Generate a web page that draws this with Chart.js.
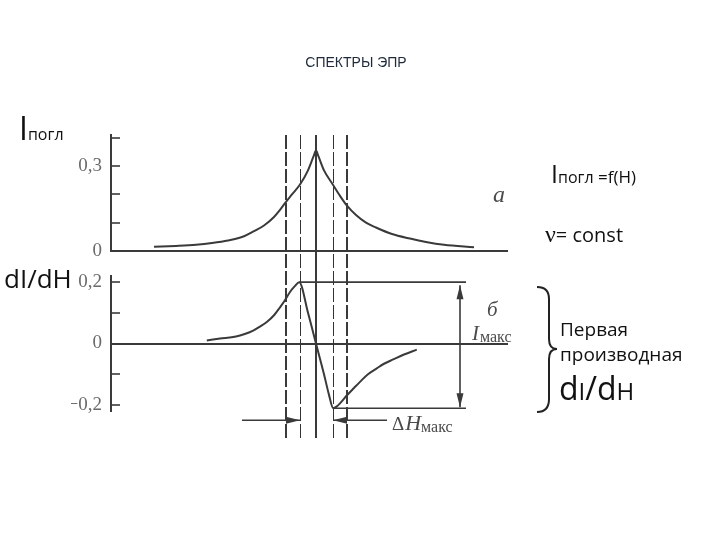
<!DOCTYPE html>
<html>
<head>
<meta charset="utf-8">
<script src="https://cdn.jsdelivr.net/npm/chart.js@4.4.1/dist/chart.umd.min.js"></script>
<style>
html,body{margin:0;padding:0;background:#fff;}
#wrap{position:relative;width:720px;height:540px;overflow:hidden;background:#fff;}
#c{position:absolute;left:0;top:0;}
.t{position:absolute;white-space:nowrap;color:#111;font-family:'Open Sans',sans-serif;line-height:1;}
</style>
</head>
<body>
<div id="wrap">
<canvas id="c" width="720" height="540"></canvas>
<div class="t" style="left:0;width:712px;text-align:center;top:55px;font-size:14px;font-family:'Liberation Sans',sans-serif;color:#1e2a3a;">СПЕКТРЫ ЭПР</div>
<div class="t" style="left:19px;top:112px;font-size:32px;">I<span style="font-size:16px;">погл</span></div>
<div class="t" style="left:4px;top:265px;font-size:26px;">dI/dH</div>
<div class="t" style="left:551px;top:161px;font-size:25px;">I<span style="font-size:16px;">погл</span><span style="font-size:17px;"> =f(H)</span></div>
<div class="t" style="left:545px;top:221px;font-size:24px;"><span style="font-family:'Liberation Serif',serif;">ν</span><span style="font-size:20px;">= const</span></div>
<div class="t" style="left:560px;top:320px;font-size:19px;">Первая</div>
<div class="t" style="left:560px;top:345px;font-size:19px;">производная</div>
<div class="t" style="left:559px;top:372px;font-size:32px;">d<span style="font-size:24px;">I</span>/d<span style="font-size:24px;">H</span></div>
<svg style="position:absolute;left:535px;top:285px;" width="26" height="130" viewBox="0 0 26 130">
<path d="M2,2 Q14,2 14,14 L14,54 Q14,64 22,64 Q14,64 14,74 L14,114 Q14,127 2,127" fill="none" stroke="#222" stroke-width="2"/>
</svg>
</div>
<script>
// ---- data ----
// absorption line (panel a): field offset H (arb. units) and intensity
const absH = [-40.5, -35, -30, -26, -22, -18, -15.5, -13, -10.5, -9, -7.5, -6, -4, -2, -0.6, 0, 0.6, 2, 4.2, 6, 7.75, 10, 12.5, 15, 19, 23.5, 27.5, 32, 39.5];
const absI = [0.015, 0.018, 0.022, 0.028, 0.037, 0.052, 0.07, 0.09, 0.12, 0.145, 0.174, 0.2, 0.235, 0.285, 0.335, 0.355, 0.335, 0.285, 0.235, 0.195, 0.16, 0.127, 0.1, 0.083, 0.06, 0.044, 0.032, 0.022, 0.013];
// first derivative (panel б)
const derH = [-27.3, -24, -20, -18, -15.7, -14, -12.3, -10.5, -9, -7.8, -6.5, -5.3, -4.2, -2, 0, 2, 3.2, 4.3, 5.2, 6, 7.8, 9.5, 11, 13, 15.2, 17, 19.3, 22, 25.2];
const derV = [0.01, 0.016, 0.023, 0.03, 0.042, 0.055, 0.07, 0.092, 0.118, 0.14, 0.168, 0.187, 0.2, 0.1, 0, -0.1, -0.165, -0.211, -0.205, -0.195, -0.168, -0.145, -0.125, -0.1, -0.081, -0.066, -0.052, -0.036, -0.02];
// vertical marker lines (H positions)
const markerH = [-7.5, -4, 0, 4.25, 7.75];
// annotation anchors (H positions)
const refLineEndH = 37.5;
const imaxArrowH = 36;
const dhTailLeftH = -18.5;
const dhTailRightH = 17.75;
const dhArrowLevel = -0.25;
// tick values and labels
const topTicks = [0, 0.1, 0.2, 0.3, 0.4];
const topTickLabels = ['0', '', '', '0,3', ''];
const botTicks = [-0.2, -0.1, 0, 0.1, 0.2];
const botTickLabels = ['\u22120,2', '', '0', '', '0,2'];

const ink = '#3a3a3a';
const tickFont = {family: "'Liberation Serif', serif", size: 19};
const tickColor = '#6a6a6a';

let pk = 0, mn = 0;
derV.forEach((v, i) => { if (v > derV[pk]) pk = i; if (v < derV[mn]) mn = i; });

function arrowHead(ctx, x, y, ang, len, half) {
  ctx.beginPath();
  ctx.moveTo(x, y);
  ctx.lineTo(x - len * Math.cos(ang) + half * Math.sin(ang), y - len * Math.sin(ang) - half * Math.cos(ang));
  ctx.lineTo(x - len * Math.cos(ang) - half * Math.sin(ang), y - len * Math.sin(ang) + half * Math.cos(ang));
  ctx.closePath();
  ctx.fill();
}

const annot = {
  id: 'annot',
  beforeDatasetsDraw(chart) {
    const {ctx, chartArea: a, scales} = chart;
    const x = scales.x;
    ctx.save();
    ctx.strokeStyle = ink;
    markerH.forEach((h, i) => {
      const px = Math.round(x.getPixelForValue(h));
      ctx.beginPath();
      if (i === 2) { ctx.setLineDash([]); ctx.lineWidth = 2; }
      else if (i === 0 || i === 4) { ctx.setLineDash([14, 3]); ctx.lineWidth = 2; }
      else { ctx.setLineDash([14, 3]); ctx.lineWidth = 1; ctx.strokeStyle = '#333'; }
      const off = ctx.lineWidth === 1 ? 0.5 : 0;
      ctx.moveTo(px + off, a.top);
      ctx.lineTo(px + off, a.bottom);
      ctx.stroke();
      ctx.strokeStyle = ink;
    });
    ctx.restore();
  },
  afterDatasetsDraw(chart) {
    const {ctx, scales} = chart;
    const x = scales.x, yT = scales.yTop, yB = scales.yBot;
    ctx.save();
    ctx.strokeStyle = ink;
    ctx.fillStyle = ink;
    ctx.lineWidth = 1.6;
    // I_max arrow
    const ax = x.getPixelForValue(imaxArrowH);
    const y1 = yB.getPixelForValue(derV[pk]);
    const y2 = yB.getPixelForValue(derV[mn]);
    ctx.beginPath(); ctx.moveTo(ax, y1 + 3); ctx.lineTo(ax, y2 - 1); ctx.stroke();
    arrowHead(ctx, ax, y1 + 3, -Math.PI / 2, 14, 3.5);
    arrowHead(ctx, ax, y2 - 1, Math.PI / 2, 14, 3.5);
    // delta H arrows
    const ay = yB.getPixelForValue(dhArrowLevel);
    const lt = x.getPixelForValue(markerH[1]);
    const rt = x.getPixelForValue(markerH[3]);
    const lTail = x.getPixelForValue(dhTailLeftH);
    const rTail = x.getPixelForValue(dhTailRightH);
    ctx.beginPath(); ctx.moveTo(lTail, ay); ctx.lineTo(lt, ay); ctx.stroke();
    arrowHead(ctx, lt, ay, 0, 14, 3.5);
    ctx.beginPath(); ctx.moveTo(rTail, ay); ctx.lineTo(rt, ay); ctx.stroke();
    arrowHead(ctx, rt, ay, Math.PI, 14, 3.5);
    // labels
    ctx.fillStyle = '#4a4a4a';
    ctx.textAlign = 'left';
    ctx.textBaseline = 'alphabetic';
    ctx.font = "italic 24px 'Liberation Serif', serif";
    ctx.fillText('a', x.getPixelForValue(44.25), yT.getPixelForValue(0.173));
    ctx.font = "italic 21px 'Liberation Serif', serif";
    ctx.fillText('б', x.getPixelForValue(42.75), yB.getPixelForValue(0.09));
    // I макс
    let lx = x.getPixelForValue(39), ly = yB.getPixelForValue(0.011);
    ctx.font = "italic 21px 'Liberation Serif', serif";
    ctx.fillText('I', lx, ly);
    lx += ctx.measureText('I').width + 1;
    ctx.font = "16px 'Liberation Serif', serif";
    ctx.fillText('макс', lx, ly + 2);
    // ΔH макс
    lx = rTail + 5; ly = ay + 10;
    ctx.font = "19px 'Liberation Serif', serif";
    ctx.fillText('\u0394', lx, ly);
    lx += ctx.measureText('\u0394').width + 1;
    ctx.font = "italic 22px 'Liberation Serif', serif";
    ctx.fillText('H', lx, ly);
    lx += ctx.measureText('H').width;
    ctx.font = "16px 'Liberation Serif', serif";
    ctx.fillText('макс', lx, ly + 2);
    ctx.restore();
  }
};

const fixW = s => { s.width = 40; };

new Chart(document.getElementById('c'), {
  type: 'line',
  data: {
    datasets: [
      {
        data: absH.map((h, i) => ({x: h, y: absI[i]})),
        yAxisID: 'yTop', borderColor: ink, borderWidth: 2, pointRadius: 0,
        cubicInterpolationMode: 'monotone', clip: false
      },
      {
        data: derH.map((h, i) => ({x: h, y: derV[i]})),
        yAxisID: 'yBot', borderColor: ink, borderWidth: 2, pointRadius: 0,
        cubicInterpolationMode: 'monotone', clip: false
      },
      {
        data: [{x: derH[pk], y: derV[pk]}, {x: refLineEndH, y: derV[pk]}],
        yAxisID: 'yBot', borderColor: ink, borderWidth: 1.6, pointRadius: 0, clip: false
      },
      {
        data: [{x: derH[mn], y: derV[mn]}, {x: refLineEndH, y: derV[mn]}],
        yAxisID: 'yBot', borderColor: ink, borderWidth: 1.6, pointRadius: 0, clip: false
      }
    ]
  },
  options: {
    responsive: false,
    animation: false,
    devicePixelRatio: 1,
    layout: {padding: {left: 71, right: 212, top: 135, bottom: 102}},
    plugins: {legend: {display: false}, tooltip: {enabled: false}, title: {display: false}},
    scales: {
      x: {type: 'linear', min: -51.25, max: 48, display: false},
      yTop: {
        type: 'linear', position: 'left', stack: 'panels', stackWeight: 116, weight: 4,
        min: 0, max: 0.41,
        afterBuildTicks: s => { s.ticks = topTicks.map(v => ({value: v})); },
        afterFit: fixW,
        ticks: {
          autoSkip: false,
          callback: v => { const i = topTicks.findIndex(t => Math.abs(t - v) < 1e-9); return i >= 0 ? topTickLabels[i] : ''; },
          padding: 18, font: tickFont, color: tickColor
        },
        grid: {
          color: c => (c.tick && Math.abs(c.tick.value) < 1e-9) ? ink : 'rgba(0,0,0,0)',
          lineWidth: 2, tickLength: -9, tickColor: ink, tickWidth: 1.6
        },
        border: {display: true, color: ink, width: 2}
      },
      gap1: {
        type: 'linear', position: 'left', stack: 'panels', stackWeight: 25, weight: 3,
        afterFit: fixW,
        ticks: {display: false}, grid: {display: false}, border: {display: false}
      },
      yBot: {
        type: 'linear', position: 'left', stack: 'panels', stackWeight: 135, weight: 2,
        min: -0.22, max: 0.22,
        afterBuildTicks: s => { s.ticks = botTicks.map(v => ({value: v})); },
        afterFit: fixW,
        ticks: {
          autoSkip: false,
          callback: v => { const i = botTicks.findIndex(t => Math.abs(t - v) < 1e-9); return i >= 0 ? botTickLabels[i] : ''; },
          padding: 18, font: tickFont, color: tickColor
        },
        grid: {
          color: c => (c.tick && Math.abs(c.tick.value) < 1e-9) ? ink : 'rgba(0,0,0,0)',
          lineWidth: 2, tickLength: -9, tickColor: ink, tickWidth: 1.6
        },
        border: {display: true, color: ink, width: 2}
      },
      gap2: {
        type: 'linear', position: 'left', stack: 'panels', stackWeight: 27, weight: 1,
        afterFit: fixW,
        ticks: {display: false}, grid: {display: false}, border: {display: false}
      }
    }
  },
  plugins: [annot]
});
</script>
</body>
</html>
